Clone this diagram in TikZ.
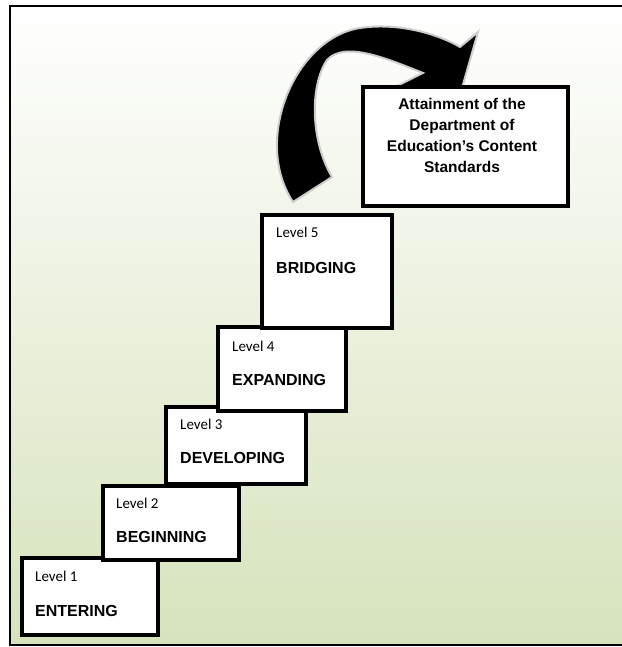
\documentclass[tikz,border=0pt]{standalone}
\usepackage{fontspec}
\setmainfont{Liberation Sans}
\newfontfamily\lvlfont{Carlito}
\usetikzlibrary{calc}

\definecolor{bggreen}{RGB}{214,227,188}
\definecolor{glowgray}{RGB}{205,205,205}

\tikzset{
    levelbox/.style={draw=black, line width=3.5pt, fill=white, inner sep=0pt, outer sep=0pt},
    lvltxt/.style={anchor=west, inner sep=0pt, font=\lvlfont\fontsize{15}{18}\selectfont},
    stagetxt/.style={anchor=west, inner sep=0pt, font=\bfseries\fontsize{16}{19}\selectfont},
}

\begin{document}
\begin{tikzpicture}[x=1pt, y=-1pt]

    \useasboundingbox (0,0) rectangle (621,647);

    % 1. Nền chuyển màu và khung ngoài
    \shade[top color=white, bottom color=bggreen] (10,6) rectangle (630,645);
    \draw[line width=2.5pt] (630,6) -- (10,6) -- (10,645) -- (630,645);

    % 2. Mũi tên cong (đuôi rộng, đầu mũi tên hướng xuống phải)
    \filldraw[fill=black, draw=glowgray, line width=2pt, line join=miter]
        (293,202) .. controls (252,140) and (295,38) .. (360,28)
        .. controls (400,22) and (440,35) .. (460,47)
        -- (478,32) -- (462,88) -- (393,88) -- (423,73)
        .. controls (390,60) and (345,40) .. (327,60)
        .. controls (310,85) and (310,140) .. (332,177)
        -- cycle;

    % 3. Các bậc thang
    \node[levelbox, minimum width=136, minimum height=77] (l1) at (90,596.5) {};
    \node[levelbox, minimum width=136, minimum height=74] (l2) at (171,523) {};
    \node[levelbox, minimum width=140, minimum height=77] (l3) at (236,445.5) {};
    \node[levelbox, minimum width=128, minimum height=84] (l4) at (282,369) {};
    \node[levelbox, minimum width=130, minimum height=113] (l5) at (327,271.5) {};

    % Level 1
    \node[lvltxt] (t1) at ($(l1.north west)+(13,18)$) {Level 1};
    \node[stagetxt] (s1) at ($(l1.north west)+(13,53)$) {ENTERING};

    % Level 2
    \node[lvltxt] (t2) at ($(l2.north west)+(13,17)$) {Level 2};
    \node[stagetxt] (s2) at ($(l2.north west)+(13,51)$) {BEGINNING};

    % Level 3
    \node[lvltxt] (t3) at ($(l3.north west)+(14,17)$) {Level 3};
    \node[stagetxt] (s3) at ($(l3.north west)+(14,51)$) {DEVELOPING};

    % Level 4
    \node[lvltxt] (t4) at ($(l4.north west)+(14,19)$) {Level 4};
    \node[stagetxt] (s4) at ($(l4.north west)+(14,53)$) {EXPANDING};

    % Level 5
    \node[lvltxt] (t5) at ($(l5.north west)+(14,17)$) {Level 5};
    \node[stagetxt] (s5) at ($(l5.north west)+(14,53)$) {BRIDGING};

    % 4. Mục tiêu
    \node[levelbox, minimum width=205, minimum height=119] (goal) at (465.5,146.5) {};
    \node[align=center, inner sep=0pt, font=\bfseries\fontsize{15.5}{21}\selectfont] (goaltxt) at (462,135)
        {Attainment of the\\Department of\\Education’s Content\\Standards};

\end{tikzpicture}
\end{document}
